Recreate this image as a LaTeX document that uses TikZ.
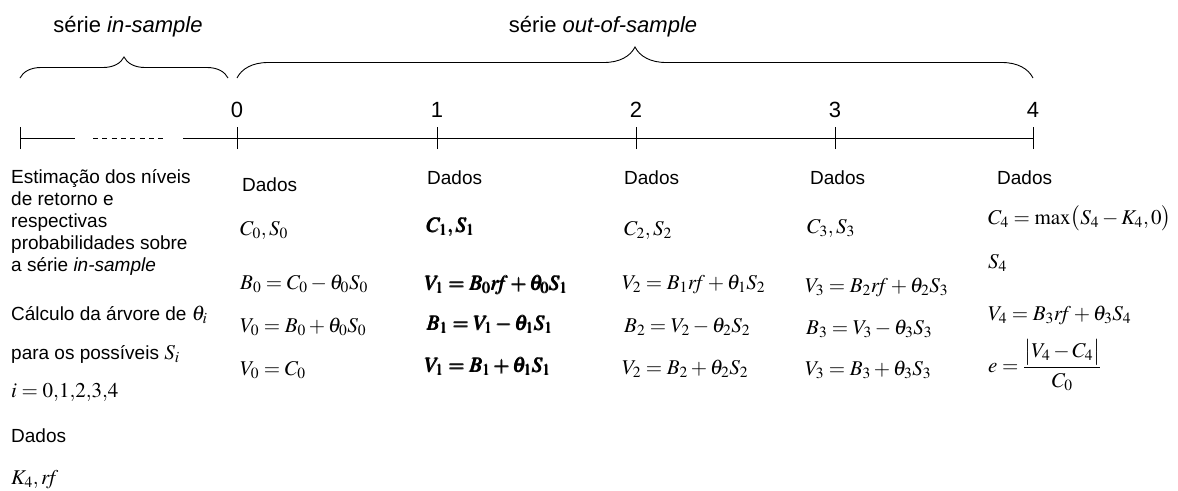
\documentclass[tikz,border=0pt]{standalone}
\usepackage{amsmath}
\usepackage{mathptmx}
\usepackage{fontspec}
\setmainfont{Liberation Sans}
\usetikzlibrary{decorations.pathreplacing}
\newcommand{\mth}[1]{{\fontsize{21}{21}\selectfont$#1$}}
\begin{document}
\begin{tikzpicture}[x=1pt,y=-1pt,
  txt/.style={font=\fontsize{19}{22}\selectfont, inner sep=0pt, anchor=base west, align=left},
  hdr/.style={font=\fontsize{22}{24}\selectfont, inner sep=0pt},
  eq/.style={font=\fontsize{21}{24}\selectfont, inner sep=0pt, anchor=base west},
  axis/.style={line width=1pt},
  brc/.style={decorate, decoration={brace, amplitude=#1}, line width=0.9pt}
]
\useasboundingbox (0,0) rectangle (1178,490);
% timeline
\coordinate (L) at (20,138);
\coordinate (La) at (75,138);
\coordinate (Da) at (93,138);
\coordinate (Db) at (167,138);
\coordinate (Lb) at (183,138);
\coordinate (t0) at (237,138);
\coordinate (t1) at (437,138);
\coordinate (t2) at (636,138);
\coordinate (t3) at (835,138);
\coordinate (t4) at (1033,138);
\draw[axis] (L) -- (La);
\draw[axis, dash pattern=on 5pt off 4.3pt] (Da) -- (Db);
\draw[axis] (Lb) -- (t4);
\foreach \p in {L,t0,t1,t2,t3,t4} \draw[axis] ([yshift=-11pt]\p) -- ([yshift=11pt]\p);
\foreach \p/\l in {t0/0,t1/1,t2/2,t3/3,t4/4} \node[hdr] (n\l) at ([yshift=28pt]\p) {\l};
% braces
\coordinate (b1a) at (20,78);
\coordinate (b1b) at (228,78);
\coordinate (b2a) at (237,78);
\coordinate (b2b) at (1033,78);
\draw[brc=21pt] (b1a) -- (b1b);
\draw[brc=31pt] (b2a) -- (b2b);
\node[hdr] (ins) at (128,27) {série \textit{in-sample}};
\node[hdr] (outs) at (603,27) {série \textit{out-of-sample}};
% left column
\node[txt, anchor=north west] (est) at (11,169) {Estimação dos níveis\\de retorno e\\respectivas\\probabilidades sobre\\a série \textit{in-sample}};
\node[txt] (calc) at (11,320) {Cálculo da árvore de \mth{\theta_i}};
\node[txt] (para) at (11,359) {para os possíveis \mth{S_i}};
\node[eq] (idx) at (11,397) {$i=0{,}1{,}2{,}3{,}4$};
\node[txt] (dl) at (11,442) {Dados};
\node[eq] (k4) at (11,484) {$K_4, \mathit{rf}$};
% column 0
\node[txt] (d0) at (242,191) {Dados};
\node[eq] (c0) at (240,235) {$C_0, S_0$};
\node[eq] (b0) at (240,289) {$B_0 = C_0 - \theta_0 S_0$};
\node[eq] (v0) at (240,332) {$V_0 = B_0 + \theta_0 S_0$};
\node[eq] (w0) at (240,375) {$V_0 = C_0$};
% column 1
\node[txt] (d1) at (427,184) {Dados};
\node[eq] (c1) at (427,232) {$\pmb{C_1, S_1}$};
\node[eq] (v1) at (425,290) {$\pmb{V_1 = B_0 \mathit{rf} + \theta_0 S_1}$};
\node[eq] (b1) at (427,330) {$\pmb{B_1 = V_1 - \theta_1 S_1}$};
\node[eq] (w1) at (425,372) {$\pmb{V_1 = B_1 + \theta_1 S_1}$};
% column 2
\node[txt] (d2) at (624,184) {Dados};
\node[eq] (c2) at (624,235) {$C_2, S_2$};
\node[eq] (v2) at (622,289) {$V_2 = B_1 \mathit{rf} + \theta_1 S_2$};
\node[eq] (b2) at (624,332) {$B_2 = V_2 - \theta_2 S_2$};
\node[eq] (w2) at (622,374) {$V_2 = B_2 + \theta_2 S_2$};
% column 3
\node[txt] (d3) at (810,184) {Dados};
\node[eq] (c3) at (807,233) {$C_3, S_3$};
\node[eq] (v3) at (805,292) {$V_3 = B_2 \mathit{rf} + \theta_2 S_3$};
\node[eq] (b3) at (806,334) {$B_3 = V_3 - \theta_3 S_3$};
\node[eq] (w3) at (805,375) {$V_3 = B_3 + \theta_3 S_3$};
% column 4
\node[txt] (d4) at (997,184) {Dados};
\node[eq] (c4) at (988,224) {$C_4 = \max\bigl(S_4 - K_4, 0\bigr)$};
\node[eq] (s4) at (988,268) {$S_4$};
\node[eq] (v4) at (988,320) {$V_4 = B_3 \mathit{rf} + \theta_3 S_4$};
\node[eq, anchor=west] (e4) at (988,365) {$e = \dfrac{\bigl|V_4 - C_4\bigr|}{C_0}$};
\end{tikzpicture}
\end{document}
